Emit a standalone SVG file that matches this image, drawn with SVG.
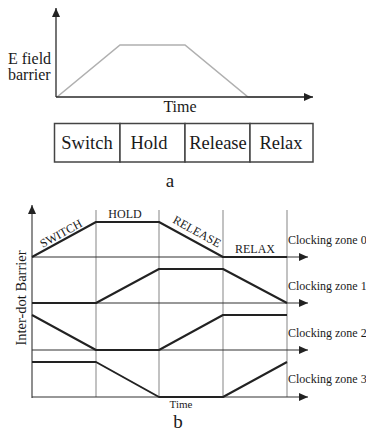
<svg xmlns="http://www.w3.org/2000/svg" width="366" height="433" viewBox="0 0 366 433">
<style>
text{font-family:"Liberation Serif","Times New Roman",serif;fill:#1a1a1a}
.axis{stroke:#2a2a2a;stroke-width:1.3;fill:none}
.curve{stroke:#b0b0b0;stroke-width:1.6;fill:none}
.cell{stroke:#444;stroke-width:1.5;fill:#fff}
.grid{stroke:#909090;stroke-width:1.1;fill:none}
.base{stroke:#333;stroke-width:1.1;fill:none}
.wave{stroke:#222;stroke-width:2;fill:none;stroke-linejoin:round}
.lbl{font-size:12px}
.zone{font-size:12px}
</style>
<defs>
<marker id="ah" markerUnits="userSpaceOnUse" markerWidth="9" markerHeight="8" refX="9" refY="4" orient="auto">
<path d="M0,0 L9,4 L0,8 z" fill="#222"/>
</marker>
</defs>

<g id="chart-a">
<polyline class="curve" points="57,97 120,45 185,45 248,97 305,97"/>
<line class="axis" x1="56" y1="97" x2="56" y2="8" marker-end="url(#ah)"/>
<line class="axis" x1="56" y1="97" x2="313" y2="97" marker-end="url(#ah)"/>
<text x="8" y="64" font-size="16">E field</text>
<text x="8" y="80" font-size="16">barrier</text>
<text x="180" y="112" font-size="16" text-anchor="middle">Time</text>
</g>

<g id="phase-table">
<rect class="cell" x="54.5" y="123.5" width="65.5" height="38.5"/>
<rect class="cell" x="120" y="123.5" width="65" height="38.5"/>
<rect class="cell" x="185" y="123.5" width="65" height="38.5"/>
<rect class="cell" x="250" y="123.5" width="63" height="38.5"/>
<text x="87" y="149" font-size="18.5" text-anchor="middle">Switch</text>
<text x="149" y="149" font-size="18.5" text-anchor="middle">Hold</text>
<text x="218" y="149" font-size="18.5" text-anchor="middle">Release</text>
<text x="281" y="149" font-size="18.5" text-anchor="middle">Relax</text>
</g>
<text x="170" y="187" font-size="19" text-anchor="middle">a</text>

<g id="chart-b">
<g id="grid">
<line class="grid" x1="96" y1="210" x2="96" y2="397"/>
<line class="grid" x1="159" y1="210" x2="159" y2="397"/>
<line class="grid" x1="223" y1="210" x2="223" y2="397"/>
<line class="grid" x1="287" y1="210" x2="287" y2="397"/>
</g>
<g id="connectors">
<line class="base" x1="32" y1="398" x2="32" y2="205" marker-end="url(#ah)"/>
<line class="base" x1="32" y1="257" x2="308" y2="257" marker-end="url(#ah)"/>
<line class="base" x1="32" y1="303" x2="308" y2="303" marker-end="url(#ah)"/>
<line class="base" x1="32" y1="350" x2="308" y2="350" marker-end="url(#ah)"/>
<line class="base" x1="32" y1="397" x2="308" y2="397" marker-end="url(#ah)"/>
</g>
<g id="zone0"><polyline class="wave" points="32,257 96,222 159,222 223,257 287,257"/></g>
<g id="zone1"><polyline class="wave" points="32,303 96,303 159,269 223,269 287,303"/></g>
<g id="zone2"><polyline class="wave" points="32,315 96,350 159,350 223,315 287,315"/></g>
<g id="zone3"><polyline class="wave" points="32,362 96,362 159,397 223,397 287,362"/></g>
<g id="phase-labels">
<text class="lbl" transform="translate(63,237) rotate(-28.7)" text-anchor="middle">SWITCH</text>
<text class="lbl" x="125" y="218" text-anchor="middle">HOLD</text>
<text class="lbl" transform="translate(195,235) rotate(28.7)" text-anchor="middle">RELEASE</text>
<text class="lbl" x="255" y="253" text-anchor="middle">RELAX</text>
</g>
<g id="zone-labels">
<text class="zone" x="288" y="244">Clocking zone 0</text>
<text class="zone" x="288" y="290">Clocking zone 1</text>
<text class="zone" x="288" y="337">Clocking zone 2</text>
<text class="zone" x="288" y="383">Clocking zone 3</text>
</g>
<text transform="translate(26,298) rotate(-90)" font-size="14.5" text-anchor="middle">Inter-dot Barrier</text>
<text x="181" y="408" font-size="11" text-anchor="middle">Time</text>
</g>
<text x="178" y="428" font-size="19" text-anchor="middle">b</text>
</svg>
